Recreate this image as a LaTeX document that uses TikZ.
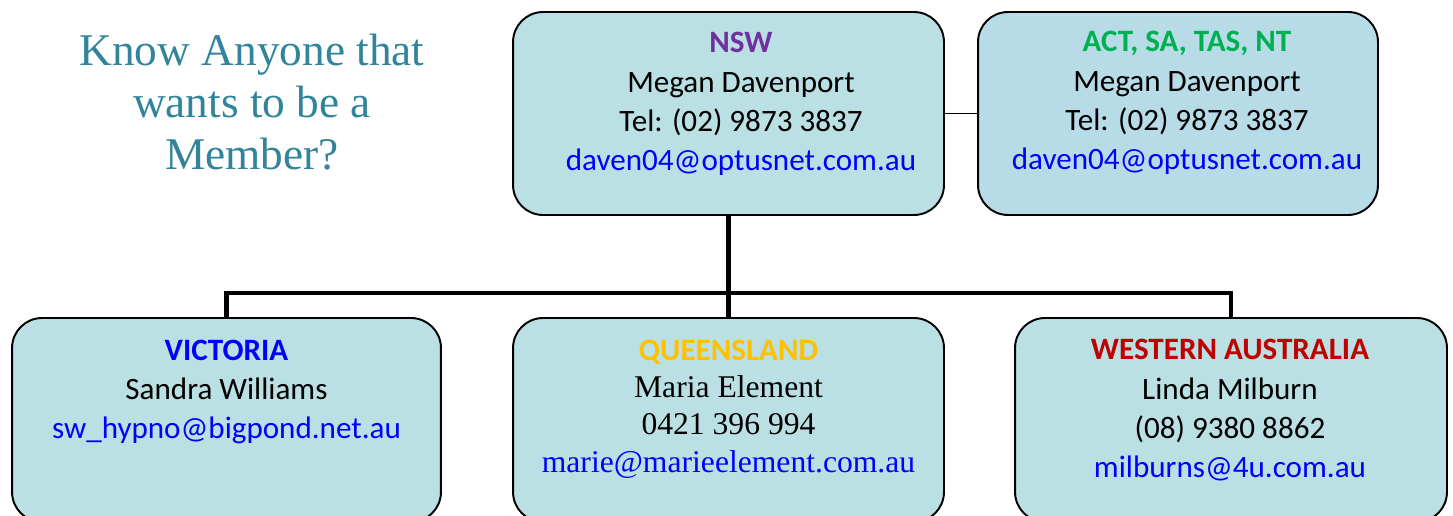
\documentclass[tikz,border=0pt]{standalone}
\usepackage{fontspec}
\setmainfont{Carlito}
\newfontfamily\tnr{Liberation Serif}
\definecolor{boxfill}{HTML}{BAE0E3}
\definecolor{boxfillb}{HTML}{B7DCE7}
\definecolor{titlec}{HTML}{31849B}
\definecolor{nswc}{HTML}{7030A0}
\definecolor{actc}{HTML}{00B050}
\definecolor{vicc}{HTML}{0000FF}
\definecolor{qldc}{HTML}{FFC000}
\definecolor{wac}{HTML}{C00000}
\definecolor{mail}{HTML}{0000FF}
\tikzset{
  box/.style={draw=black, line width=1.1pt, fill=boxfill, rectangle, rounded corners=0.6cm,
    inner sep=0pt, outer sep=0pt, minimum height=4.06cm},
  txt/.style={align=center, inner sep=0pt, font=\fontsize{17.7}{22.4}\selectfont},
  conn/.style={line width=2.8pt, black},
  thin/.style={line width=0.8pt, black}
}
\begin{document}
\begin{tikzpicture}[x=0.02cm, y=-0.02cm]
\useasboundingbox (0,0) rectangle (1453,516);
\fill[white] (0,0) rectangle (1453,516);
% title
\node[align=center, inner sep=0pt, text=titlec, font=\tnr\fontsize{25.8}{29.5}\selectfont] (title) at (252,102)
  {Know Anyone that\\wants to be a\\Member?};
% boxes
\node[box, minimum width=8.62cm] (nsw) at (728.5,113.5) {};
\node[box, fill=boxfillb, minimum width=8.0cm] (act) at (1178,113.5) {};
\node[box, minimum width=8.58cm, minimum height=4.08cm] (vic) at (226.5,420) {};
\node[box, minimum width=8.62cm, minimum height=4.08cm] (qld) at (728.5,420) {};
\node[box, minimum width=8.64cm, minimum height=4.08cm] (wa) at (1231,420) {};
% connectors
\coordinate (bus) at (728.5,293);
\draw[thin] (nsw.east) -- (act.west);
\draw[conn] (nsw.south) -- (qld.north);
\draw[conn] (vic.north) |- (bus) -| (wa.north);
% texts
\node[txt] (nswt) at (741,104) {{\bfseries\color{nswc}NSW}\\Megan Davenport\\Tel: (02) 9873 3837\\{\color{mail}daven04@optusnet.com.au}};
\node[txt] (actt) at (1187,103) {{\bfseries\color{actc}ACT, SA, TAS, NT}\\Megan Davenport\\Tel: (02) 9873 3837\\{\color{mail}daven04@optusnet.com.au}};
\node[txt] (vict) at (226.5,392) {{\bfseries\color{vicc}VICTORIA}\\Sandra Williams\\{\color{mail}sw\_hypno@bigpond.net.au}};
\node[txt, font=\fontsize{17.7}{21.3}\selectfont] (qldt) at (728.5,409) {{\bfseries\color{qldc}QUEENSLAND}\\{\tnr\fontsize{18}{21.3}\selectfont Maria Element}\\{\tnr\fontsize{18}{21.3}\selectfont 0421 396 994}\\{\tnr\fontsize{18}{21.3}\selectfont\color{mail}marie@marieelement.com.au}};
\node[txt] (wat) at (1230,410.5) {{\bfseries\color{wac}WESTERN AUSTRALIA}\\Linda Milburn\\(08) 9380 8862\\{\color{mail}milburns@4u.com.au}};
\end{tikzpicture}
\end{document}
